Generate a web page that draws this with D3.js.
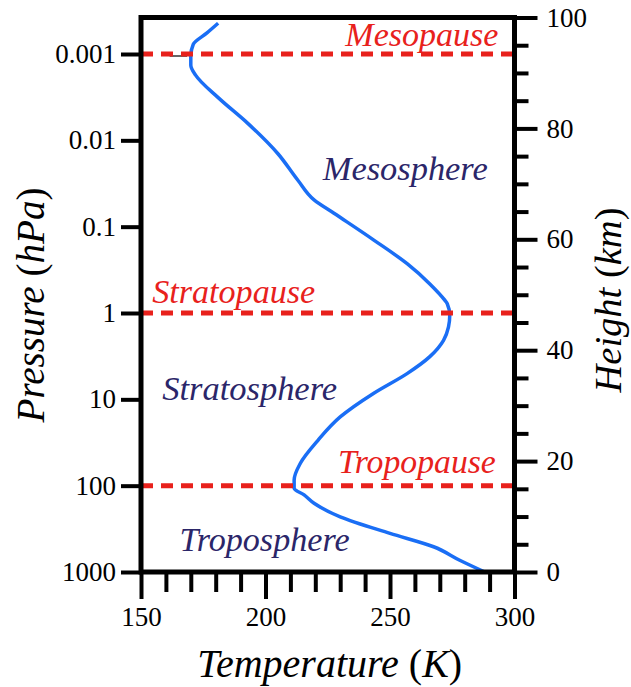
<!DOCTYPE html>
<html><head><meta charset="utf-8">
<script src="https://cdn.jsdelivr.net/npm/d3@7/dist/d3.min.js"></script>
<style>html,body{margin:0;padding:0;background:#fff;}</style>
</head><body><svg id="chart" width="631" height="687"></svg>
<script>
// ---- data ----
const temperatureK = [181, 176.5, 171, 170, 170, 172, 181, 193, 205, 213, 219.5, 227.5, 243.5, 257, 266, 272, 273, 274, 273.5, 271.5, 266, 257, 243.5, 230, 221, 214, 211.5, 211.5, 215.5, 219.5, 230, 250, 267.5, 278, 288.5];
const pressureHPa  = [0.00044, 0.00057, 0.00077, 0.00105, 0.00135, 0.00177, 0.0032, 0.0064, 0.0143, 0.029, 0.049, 0.07, 0.143, 0.27, 0.46, 0.71, 0.78, 1.06, 1.45, 2.07, 3.2, 5.0, 8.5, 16, 30, 55, 86, 107, 128, 160, 230, 357, 510, 730, 1013];
const pressureTicks = [0.001, 0.01, 0.1, 1, 10, 100, 1000];
const pressureTickLabels = ["0.001", "0.01", "0.1", "1", "10", "100", "1000"];
const heightTicks = [0, 20, 40, 60, 80, 100];
const heightMinorTicks = [5, 10, 15, 25, 30, 35, 45, 50, 55, 65, 70, 75, 85, 90, 95];
const temperatureTicks = [150, 200, 250, 300];
const temperatureMinorTicks = [160, 170, 180, 190, 210, 220, 230, 240, 260, 270, 280, 290];
const pauseNames = ["Mesopause", "Stratopause", "Tropopause"];
const pausePressures = [0.001, 1, 100];
const layerNames = ["Mesosphere", "Stratosphere", "Troposphere"];

// ---- layout ----
const FONT = "'Liberation Serif', 'Times New Roman', serif";
const RED = "#e8211c", NAVY = "#2b2669", BLUE = "#1a6ef5";
const svg = d3.select("#chart");

const ctx = document.createElement("canvas").getContext("2d");
function cw(str, italic) { ctx.font = (italic ? "italic " : "") + "100px " + FONT; return ctx.measureText(str).width; }
function fitSize(str, width, italic) { return 100 * width / cw(str, italic); }
const tickSize = Math.max(22, Math.min(27, fitSize("1000", 54, false)));

const x = d3.scaleLinear().domain([150, 300]).range([141, 514.5]);
const yP = d3.scaleLog().domain([1000, 0.001]).range([572, 54]);
const yH = d3.scaleLinear().domain([0, 100]).range([572, 17.5]);

// temperature profile
const profile = temperatureK.map((t, i) => ({t, p: pressureHPa[i]}));
svg.append("path")
  .datum(profile)
  .attr("fill", "none")
  .attr("stroke", BLUE)
  .attr("stroke-width", 3.5)
  .attr("stroke-linejoin", "round")
  .attr("d", d3.line().x(d => x(d.t)).y(d => yP(d.p)).curve(d3.curveMonotoneY));

// small stray tick inside the frame at 0.001 hPa
svg.append("line")
  .attr("x1", x(161.5)).attr("x2", x(168.5))
  .attr("y1", yP(0.001) + 2).attr("y2", yP(0.001) + 2)
  .attr("stroke", "#333").attr("stroke-width", 1.5);

// dashed pause lines
svg.selectAll("line.pause").data(pausePressures).join("line")
  .attr("class", "pause")
  .attr("x1", x(150)).attr("x2", x(300))
  .attr("y1", d => yP(d)).attr("y2", d => yP(d))
  .attr("stroke", RED).attr("stroke-width", 5)
  .attr("stroke-dasharray", "12,8");

// axes
function styleAxis(g, w) {
  g.attr("font-family", null).attr("font-size", null);
  g.select(".domain").remove();
  g.selectAll(".tick line").attr("stroke", "#000").attr("stroke-width", w);
  g.selectAll(".tick text").attr("fill", "#000").style("font-family", FONT).style("font-size", tickSize + "px");
}
svg.append("g").attr("transform", `translate(${x(150)},0)`)
  .call(d3.axisLeft(yP).tickValues(pressureTicks).tickFormat((d, i) => pressureTickLabels[i]).tickSize(20).tickPadding(5))
  .call(g => styleAxis(g, 4));

svg.append("g").attr("transform", `translate(${x(300)},0)`)
  .call(d3.axisRight(yH).tickValues(heightMinorTicks).tickFormat("").tickSize(14))
  .call(g => styleAxis(g, 4));
svg.append("g").attr("transform", `translate(${x(300)},0)`)
  .call(d3.axisRight(yH).tickValues(heightTicks).tickFormat(d3.format("d")).tickSize(23).tickPadding(9))
  .call(g => styleAxis(g, 4));

svg.append("g").attr("transform", `translate(0,${yP(1000)})`)
  .call(d3.axisBottom(x).tickValues(temperatureMinorTicks).tickFormat("").tickSize(20))
  .call(g => styleAxis(g, 4));
svg.append("g").attr("transform", `translate(0,${yP(1000)})`)
  .call(d3.axisBottom(x).tickValues(temperatureTicks).tickFormat(d3.format("d")).tickSize(27).tickPadding(8))
  .call(g => styleAxis(g, 4));

// frame
svg.append("rect")
  .attr("x", x(150)).attr("y", yH(100))
  .attr("width", x(300) - x(150)).attr("height", yH(0) - yH(100))
  .attr("fill", "none").attr("stroke", "#000").attr("stroke-width", 5);

// region labels (size fitted to the reference's text widths)
function label(text, px, py, color, anchor, width) {
  svg.append("text").attr("x", px).attr("y", py)
    .attr("text-anchor", anchor).attr("fill", color)
    .style("font-family", FONT).style("font-style", "italic")
    .style("font-size", Math.max(26, Math.min(36, fitSize(text, width, true))) + "px")
    .text(text);
}
label(pauseNames[0], x(293.5), yP(pausePressures[0]) - 8, RED, "end", 153);
label(pauseNames[1], x(154.5), yP(pausePressures[1]) - 10, RED, "start", 163);
label(pauseNames[2], x(292.5), yP(pausePressures[2]) - 13, RED, "end", 158);
label(layerNames[0], x(223), yP(0.029), NAVY, "start", 165);
label(layerNames[1], x(158.5), yP(10.2), NAVY, "start", 175);
label(layerNames[2], x(165.5), yP(570), NAVY, "start", 170);

// axis titles (italic letters, upright parentheses)
function title(parts, tx, ty, rot, width) {
  const full = parts.map(p => p[0]).join("");
  const size = Math.max(30, Math.min(40, fitSize(full, width, true)));
  const t = svg.append("text")
    .attr("transform", `translate(${tx},${ty}) rotate(${rot})`)
    .attr("text-anchor", "middle").attr("fill", "#000")
    .style("font-family", FONT).style("font-size", size + "px");
  parts.forEach(([s, it]) => t.append("tspan").style("font-style", it ? "italic" : "normal").text(s));
}
title([["Temperature ", true], ["(", false], ["K", true], [")", false]], (x(150) + x(300)) / 2 + 2, 677, 0, 270);
title([["Pressure ", true], ["(", false], ["hPa", true], [")", false]], 44, 305, -90, 235);
title([["Height ", true], ["(", false], ["km", true], [")", false]], 621, 300, -90, 185);
</script></body></html>
